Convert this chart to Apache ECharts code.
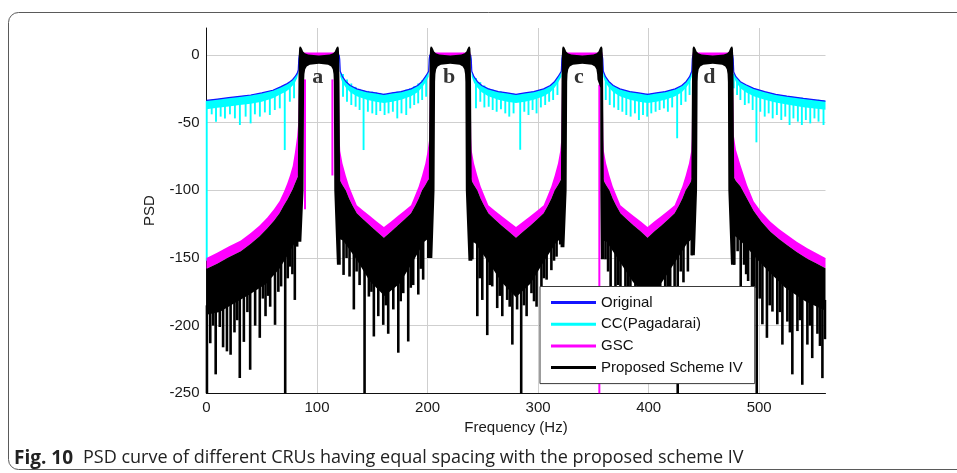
<!DOCTYPE html>
<html>
<head>
<meta charset="utf-8">
<title>PSD of CRUs with equal spacing</title>
<script src="https://cdn.jsdelivr.net/npm/echarts@6.0.0/dist/echarts.min.js"></script>
<style>
  html, body { margin: 0; padding: 0; background: #fff; }
  #chart { width: 957px; height: 473px; }
</style>
</head>
<body>
<div id="chart"></div>
<script>
// Frequency in Hz, PSD in dB.

// Original spectrum envelope
const original = [
  [0,-33.5],[10,-32.5],[20,-31.5],[30,-30.5],[40,-29.5],[50,-28],[60,-26],[67,-23.5],[72,-21.5],[75,-20],[78,-18],[80,-16],[82,-13.5],[83,-11],
  [83.5,-3],[84,0],[86,0.4],[102,0],[118,0.4],[120,0],[120.5,-3],
  [121,-12],[123,-16],[126,-19.5],[130,-22.5],[136,-25],[145,-27],[153,-28],[160.5,-29],[168,-28],[176,-27],[185,-25],[191,-22.5],[195,-19.5],[198,-16],[201,-12],
  [201.5,-3],[202,0],[204,0.4],[220.5,0],[237,0.4],[239,0],[239.5,-3],
  [240,-12],[242,-16],[245,-19.5],[249,-22.5],[255,-25],[264,-27],[272,-28],[280,-29],[288,-28],[296,-27],[305,-25],[311,-22.5],[315,-19.5],[318,-16],[321,-12],
  [321.5,-3],[322,0],[324,0.4],[340,0],[356,0.4],[358,0],[358.5,-3],
  [359,-12],[361,-16],[364,-19.5],[368,-22.5],[374,-25],[383,-27],[391,-28],[399,-29],[407,-28],[415,-27],[424,-25],[430,-22.5],[434,-19.5],[437,-16],[439,-12],
  [439.5,-3],[440,0],[442,0.4],[458,0],[474,0.4],[476,0],[476.5,-3],
  [477,-12.5],[479,-16],[483,-19.7],[488,-22],[495,-24.6],[505,-27],[515,-29],[525,-30.3],[540,-32],[560,-34]
];

// CC (Pagadarai): lower edge of the dense part, and its notches [f, from, to]
const ccLower = [
  [0,-40],[10,-39],[20,-38],[30,-37],[40,-36],[50,-34.5],[60,-32],[67,-29],[72,-27],[75,-25],[78,-22.5],[80,-20.5],[82,-17],[83,-14],
  [83.5,-6],[84,-4],[102,-4],[120,-4],[120.5,-6],
  [121,-16],[123,-20.5],[126,-24],[130,-27.5],[136,-30.5],[145,-33],[153,-34.5],[160.5,-35.5],[168,-34.5],[176,-33],[185,-30.5],[191,-27.5],[195,-24],[198,-20.5],[201,-16],
  [201.5,-6],[202,-4],[239,-4],[239.5,-6],
  [240,-16],[242,-20.5],[245,-24],[249,-27.5],[255,-30.5],[264,-33],[272,-34.5],[280,-35.5],[288,-34.5],[296,-33],[305,-30.5],[311,-27.5],[315,-24],[318,-20.5],[321,-16],
  [321.5,-6],[322,-4],[358,-4],[358.5,-6],
  [359,-16],[361,-20.5],[364,-24],[368,-27.5],[374,-30.5],[383,-33],[391,-34.5],[399,-35.5],[407,-34.5],[415,-33],[424,-30.5],[430,-27.5],[434,-24],[437,-20.5],[439,-16],
  [439.5,-6],[440,-4],[476,-4],[476.5,-6],
  [477,-16],[479,-20],[483,-24.5],[488,-27.5],[495,-30.5],[505,-33],[515,-35],[525,-36.5],[540,-38.5],[560,-40.5]
];

const ccNotches = [
  [0.2,-34,-152],
  [4.7,-35,-43.8],[8.6,-34.5,-49.2],[12.8,-34,-45.5],[16.7,-33.5,-46.8],[21.2,-33,-43.8],[25.7,-32.5,-46.8],[30.2,-32,-51.7],[35.4,-31.5,-45.5],[39.9,-31,-50.5],[43.8,-30.5,-43.8],[48.3,-30,-45.5],[52.8,-29,-42.4],[57.3,-28,-44.3],[61.8,-27,-40.6],[66.3,-25,-39.4],[70.8,-23,-70.2],[75.4,-21,-34.5],[79.2,-18,-32],
  [123.5,-14,-30.8],[127.1,-18,-34.5],[131,-21,-36.9],[134.9,-23.5,-38.2],[138.5,-25,-40.6],[142.1,-26,-70.2],[146,-26.5,-41.9],[150,-27,-43.1],[153.6,-27.5,-44.3],[157.2,-28,-41.4],[161.1,-28.5,-44.3],[164.7,-28,-43.1],[168.6,-27.5,-41.9],[172.6,-27,-46.8],[176.4,-26.5,-43.1],[180.7,-25.5,-44.3],[184.3,-24.5,-39.4],[187.9,-23,-36.9],[191.5,-21,-35.7],[195.1,-18.5,-33.2],[198.7,-15,-30.8],
  [243.8,-17,-39.4],[247.7,-20,-34.5],[251.4,-22.5,-38.7],[255.3,-24.5,-38.2],[258.9,-25.5,-40.6],[262.5,-26.5,-41.9],[266.4,-27,-40.1],[270.3,-27.5,-43.1],[273.9,-28,-45.5],[277.8,-28.5,-43.1],[283.8,-28.5,-70],[287.5,-28,-41.9],[291.3,-27.5,-44.3],[295,-27,-40.6],[298.6,-26.5,-43.1],[302.5,-25.5,-38.7],[306.4,-24.5,-36.9],[310,-23,-34.5],[313.6,-21,-33.2],[317.5,-17.5,-29.5],
  [361.2,-17,-33.2],[364.8,-20,-36.9],[368.7,-22.5,-38.7],[372.6,-24.5,-40.6],[376.2,-25.5,-41.9],[379.8,-26.5,-44.3],[383.7,-27,-45.5],[387.6,-27.5,-43.1],[391.2,-28,-48],[394.9,-28.5,-44.3],[398.7,-28.5,-45.5],[402.4,-28.5,-43.1],[406.3,-28,-41.9],[409.9,-27.5,-40.6],[413.8,-27,-39.4],[417.4,-26.5,-41.9],[421.3,-25.5,-38.7],[425.8,-24.5,-61.5],[429.4,-23,-36.9],[433.4,-21,-34.5],[437,-17,-29.5],
  [477,-14,-24.6],[480,-17.5,-29.5],[483,-20.5,-33.2],[487,-22.5,-36.9],[490.5,-23.5,-35.7],[494.1,-25,-40.6],[497.5,-26,-64.5],[501,-26.5,-41.9],[505,-27.5,-45.5],[508.6,-28,-43.1],[512.2,-28.5,-46.8],[516,-29,-44.3],[520,-29.5,-48],[523.6,-30,-45.5],[527.5,-30.5,-51.7],[531,-31,-46.8],[535,-31.5,-49.2],[538.6,-31.5,-51.7],[542.2,-32,-48],[546.2,-32.5,-50.5],[550,-33,-46.8],[553.7,-33,-49.2],[558.2,-33.5,-51.7]
];

// GSC: upper and lower edges of the dense band, plus notches [f, from, to]
const gscUpper = [
  [0,-150],[10,-146],[20,-141.5],[31,-137],[40,-131.5],[48,-126],[55,-120],[61,-114],[66,-108],[70,-101],[73,-95],[75.5,-89],[78,-82],[80,-72],[82,-60],[83,-50],
  [83.5,-25],[83.8,1.8],[119.7,1.8],[120,-25],
  [120.5,-62],[121,-71],[123,-80],[126,-89],[129,-97],[132,-103],[136,-111],[142,-115],[148,-119],[154,-123],[160.5,-127],[167,-123],[173,-119],[179,-115],[185,-111],[189,-103],[192,-97],[195,-89],[198,-80],[200,-71],[201.5,-62],
  [202,-25],[202.3,1.8],[238.7,1.8],[239,-25],
  [239.5,-62],[240,-71],[242,-80],[245,-89],[248,-97],[251,-103],[255,-111],[261,-115],[267,-119],[273.5,-123],[280,-127],[286.5,-123],[293,-119],[299,-115],[305,-111],[309,-103],[312,-97],[315,-89],[318,-80],[320,-71],[321,-62],
  [321.5,-25],[321.8,1.8],[358.2,1.8],[358.5,-25],
  [359,-62],[359.5,-71],[361.5,-80],[364.5,-89],[367.5,-97],[370.5,-103],[374.5,-111],[380.5,-115],[386.5,-119],[393,-123],[399,-127],[405,-123],[411.5,-119],[417.5,-115],[423.5,-111],[427.5,-103],[430.5,-97],[433.5,-89],[436.5,-80],[438.5,-71],[439,-62],
  [439.5,-25],[439.8,1.8],[476.2,1.8],[476.5,-25],
  [477,-59],[479,-70],[483,-81],[489,-96],[495,-108],[502,-116],[510,-123],[518,-128.5],[525.5,-133],[534,-138],[543.6,-142.8],[552,-146.5],[560,-150]
];

const gscLower = [
  [0,-158],[10,-154],[20,-149.5],[31,-145],[40,-139.5],[48,-134],[55,-128],[61,-122.5],[66,-117],[70,-111],[73,-107],[75.5,-103],[78,-99],[80,-95],[82,-91],[83,-89],
  [83.5,-89],[83.8,-1],[119.7,-1],[120,-90],
  [120.5,-91],[121,-93],[123,-96],[126,-100],[129,-106],[132,-111],[136,-117],[142,-121.5],[148,-126],[154,-130.5],[160.5,-135],[167,-130.5],[173,-126],[179,-121.5],[185,-117],[189,-111],[192,-106],[195,-100],[198,-96],[200,-93],[201.5,-91],
  [202,-90],[202.3,-1],[238.7,-1],[239,-90],
  [239.5,-91],[240,-93],[242,-96],[245,-100],[248,-106],[251,-111],[255,-117],[261,-121.5],[267,-126],[273.5,-130.5],[280,-135],[286.5,-130.5],[293,-126],[299,-121.5],[305,-117],[309,-111],[312,-106],[315,-100],[318,-96],[320,-93],[321,-91],
  [321.5,-90],[321.8,-1],[358.2,-1],[358.5,-90],
  [359,-91],[359.5,-93],[361.5,-96],[364.5,-100],[367.5,-106],[370.5,-111],[374.5,-117],[380.5,-121.5],[386.5,-126],[393,-130.5],[399,-135],[405,-130.5],[411.5,-126],[417.5,-121.5],[423.5,-117],[427.5,-111],[430.5,-106],[433.5,-100],[436.5,-96],[438.5,-93],[439,-91],
  [439.5,-90],[439.8,-1],[476.2,-1],[476.5,-90],
  [477,-90],[479,-93],[483,-97],[489,-106],[495,-115],[502,-123],[510,-130.5],[518,-136],[525.5,-140.5],[534,-145.5],[543.6,-150.5],[552,-154],[560,-157.5]
];

const gscNotches = [[89.1,-18,-114],[113.9,-18,-89],[355.4,-22,-250]];

// Proposed Scheme IV: out-of-band dense part (gaps split by null), notches, and the four passbands
const propUpper = [
  [0,-158],[10,-154],[20,-149.5],[31,-145],[40,-139.5],[48,-134],[55,-128],[61,-122.5],[66,-117],[70,-111],[73,-107],[75.5,-103],[78,-99],[80,-95],[82,-91],[83.2,-89],
  null,
  [120.3,-91],[121,-93],[123,-96],[126,-100],[129,-106],[132,-111],[136,-117],[142,-121.5],[148,-126],[154,-130.5],[160.5,-135],[167,-130.5],[173,-126],[179,-121.5],[185,-117],[189,-111],[192,-106],[195,-100],[198,-96],[200,-93],[201.7,-91],
  null,
  [239.3,-91],[240,-93],[242,-96],[245,-100],[248,-106],[251,-111],[255,-117],[261,-121.5],[267,-126],[273.5,-130.5],[280,-135],[286.5,-130.5],[293,-126],[299,-121.5],[305,-117],[309,-111],[312,-106],[315,-100],[318,-96],[320,-93],[321.2,-91],
  null,
  [358.8,-91],[359.5,-93],[361.5,-96],[364.5,-100],[367.5,-106],[370.5,-111],[374.5,-117],[380.5,-121.5],[386.5,-126],[393,-130.5],[399,-135],[405,-130.5],[411.5,-126],[417.5,-121.5],[423.5,-117],[427.5,-111],[430.5,-106],[433.5,-100],[436.5,-96],[438.5,-93],[439.2,-91],
  null,
  [476.8,-90],[479,-93],[483,-97],[489,-106],[495,-115],[502,-123],[510,-130.5],[518,-136],[525.5,-140.5],[534,-145.5],[543.6,-150.5],[552,-154],[560,-157.5]
];

const propLower = [
  [0,-192],[12,-190],[24,-184],[39,-177],[54,-169],[66,-158],[75,-146],[81,-137],[83.2,-135],
  null,
  [120.3,-136],[123.5,-137],[135.6,-151],[147.6,-167],[161,-178],[174.6,-169],[186.6,-153],[197,-138],[201.7,-135],
  null,
  [239.3,-138],[243,-139],[255,-153],[267,-168],[280,-179],[293,-169],[305,-153],[316,-139],[321.2,-135],
  null,
  [358.8,-137],[362,-138],[374,-153],[386,-168],[399,-178],[412,-168],[424,-153],[435,-139],[439.2,-136],
  null,
  [476.8,-133],[480,-135],[487.5,-141],[498,-151],[508.6,-160],[523.6,-172],[541.7,-182],[560,-189]
];

const propNotches = [
  [0.4,-185,-250],[3.4,-183,-213],[6,-183,-200],[8.3,-182,-236],[12,-181,-201],[15,-181,-216],[18.5,-180,-219],[21.8,-178,-221.5],[25.3,-176,-205],[27.8,-175,-196],[30.1,-174,-238.7],[33.8,-172,-212],[37,-170,-190],[39.5,-169,-232.6],[44,-166,-200],[48.2,-164,-209],[51,-162,-180],[53.4,-160,-193],[55.6,-159,-178],[57.6,-157,-186],[62,-154,-199.4],[65,-151,-175],[67.5,-150,-171],[71.2,-145,-250],[73.5,-142,-165],[75.4,-139,-156.4],[77.7,-137,-162],[79.9,-131,-181],[82,-128,-141.6],
  [124,-130,-162.5],[126.7,-134,-150],[129.4,-137,-163.7],[133.3,-142,-188],[135.8,-146,-160],[138.5,-149,-170],[143,-154,-250],[146.9,-158,-178.5],[149.2,-160,-175],[151.4,-162,-208],[155.4,-165,-193],[159.9,-167,-199.4],[162.2,-167,-185],[164.4,-166,-206],[169,-163,-188],[173.5,-160,-220],[175.7,-158,-182],[178,-156,-176],[182.5,-151,-211.7],[184.8,-149,-172],[187,-146,-170],[191.6,-140,-177],[193.8,-137,-158],[196,-133,-166],[200.6,-128,-150],
  [240.5,-130,-151],[245,-135,-193],[247.2,-138,-165],[249.5,-140,-181],[254,-146,-207],[256.2,-150,-170],[258.5,-152,-171],[263,-157,-187],[265.3,-159,-178],[267.6,-160,-193],[272,-163,-181],[274.3,-165,-186],[276.7,-166,-214],[281,-167,-188],[284.7,-166,-250],[287.2,-164,-185],[289.6,-162,-193],[294,-158,-176],[296.3,-155,-182],[298.6,-152,-186],[303,-147,-171],[305.3,-145,-165],[307.7,-142,-166],[312,-137,-159],[314.4,-134,-152],[316.7,-131,-149],[320,-128,-140],
  [361,-130,-151],[363.3,-132,-160],[365.6,-135,-171],[370,-140,-180],[372.3,-143,-170],[374.5,-146,-195],[379,-152,-175],[381.3,-155,-185],[383.5,-157,-200],[388,-160,-190],[390.2,-162,-180],[392.5,-163,-210],[397,-166,-195],[399.3,-166,-188],[401.5,-166,-205],[406,-163,-215],[408.3,-162,-185],[410.5,-160,-190],[415,-156,-200],[417.3,-154,-178],[419.5,-151,-185],[423.5,-147,-175],[426.3,-144,-250],[429,-141,-160],[431.5,-139,-168],[435.5,-134,-160],[439,-128,-148],
  [477.5,-126,-155],[480.5,-128,-145],[483.3,-130,-175],[486.3,-133,-155],[488.2,-135,-162],[490,-137,-167],[493.5,-140,-185],[495.6,-143,-172],[497.8,-146,-250],[500.5,-148,-180],[502.9,-150,-199],[507,-153,-209],[509.5,-155,-185],[512,-157,-189.6],[516.4,-161,-199],[518.7,-163,-190],[521,-165,-214],[525.5,-167,-197],[527.8,-168,-205],[530,-170,-236],[534.6,-172,-204],[536.8,-173,-196],[539,-174,-243.7],[543.6,-176,-214],[545.8,-177,-200],[548,-178,-224],[552.7,-179,-206],[555,-180,-215],[557.2,-180,-238.8],[559.5,-181,-210]
];

const propBandA = [
  [82.3,-138],[82.8,-70],[83.2,-20],[83.5,0],[83.8,5],[84.4,6.3],[85.4,6.1],[86.4,4.6],[87.4,2.6],[89,1.4],[92,0.4],[101.75,-0.3],[111.5,0.4],[114.5,1.4],[116.1,2.6],[117.1,4.6],[118.1,6.1],[119.1,6.3],[119.7,5],[120,0],[120.3,-20],[120.7,-70],[121.5,-155],
  [118,-155],[115.6,-100],[115.2,-20],[114.9,-14],[114.2,-10.5],[112.8,-8.5],[110,-7.2],[101.75,-6.5],[93.5,-7.2],[90.7,-8.5],[89.3,-10.5],[88.6,-14],[88.3,-20],[87.8,-100],[85.8,-138]
];
const propBandB = [
  [200.8,-150],[201.3,-70],[201.7,-20],[202,0],[202.3,5],[202.9,6.3],[203.9,6.1],[204.9,4.6],[205.9,2.6],[207.5,1.4],[210.5,0.4],[220.5,-0.3],[230.5,0.4],[233.5,1.4],[235.1,2.6],[236.1,4.6],[237.1,6.1],[238.1,6.3],[238.7,5],[239,0],[239.3,-20],[239.7,-70],[240.5,-152],
  [237,-152],[234.6,-100],[234.2,-20],[233.9,-14],[233.2,-10.5],[231.8,-8.5],[229,-7.2],[220.5,-6.5],[212,-7.2],[209.2,-8.5],[207.8,-10.5],[207.1,-14],[206.8,-20],[206.3,-100],[204.3,-150]
];
const propBandC = [
  [320.3,-142],[320.8,-70],[321.2,-20],[321.5,0],[321.8,5],[322.4,6.3],[323.4,6.1],[324.4,4.6],[325.4,2.6],[327,1.4],[330,0.4],[340,-0.3],[350,0.4],[353,1.4],[354.6,2.6],[355.6,4.6],[356.6,6.1],[357.6,6.3],[358.2,5],[358.5,0],[358.8,-20],[359.2,-70],[360,-151],
  [356.8,-151],[356.3,-100],[356.2,-24],[353.7,-18],[353.4,-14],[352.7,-10.5],[351.3,-8.5],[348.5,-7.2],[340,-6.5],[331.5,-7.2],[328.7,-8.5],[327.3,-10.5],[326.6,-14],[326.3,-20],[325.8,-100],[323.8,-142]
];
const propBandD = [
  [438.3,-148],[438.8,-70],[439.2,-20],[439.5,0],[439.8,5],[440.4,6.3],[441.4,6.1],[442.4,4.6],[443.4,2.6],[445,1.4],[448,0.4],[458,-0.3],[468,0.4],[471,1.4],[472.6,2.6],[473.6,4.6],[474.6,6.1],[475.6,6.3],[476.2,5],[476.5,0],[476.8,-20],[477.2,-70],[478,-155],
  [474.5,-155],[472.1,-100],[471.7,-20],[471.4,-14],[470.7,-10.5],[469.3,-8.5],[466.5,-7.2],[458,-6.5],[449.5,-7.2],[446.7,-8.5],[445.3,-10.5],[444.6,-14],[444.3,-20],[443.8,-100],[441.8,-148]
];

// CRU labels [f, dB, text]
const bandLabels = [[100.6,-16.4,'a'],[219.6,-16.4,'b'],[336.9,-16.4,'c'],[454.9,-16.4,'d']];

const seriesNames = ['Original', 'CC(Pagadarai)', 'GSC', 'Proposed Scheme IV'];
const seriesColors = ['#1414ff', '#00ffff', '#ff00ff', '#000000'];

// split an array of points at null entries
function segments(arr) {
  const out = [[]];
  arr.forEach(p => { if (p === null) out.push([]); else out[out.length - 1].push(p); });
  return out.filter(s => s.length);
}

// filled region between an upper and a lower edge
function fillBetween(upper, lower, color) {
  return function (params, api) {
    const ups = segments(upper), lows = segments(lower);
    return {
      type: 'group',
      children: ups.map((u, i) => ({
        type: 'polygon',
        shape: { points: u.map(p => api.coord(p)).concat(lows[i].slice().reverse().map(p => api.coord(p))) },
        style: { fill: color }
      }))
    };
  };
}

// closed outlines
function outlines(list, color) {
  return function (params, api) {
    return {
      type: 'group',
      children: list.map(o => ({
        type: 'polygon',
        shape: { points: o.map(p => api.coord(p)) },
        style: { fill: color }
      }))
    };
  };
}

// vertical notch from value[1] to value[2] at frequency value[0]
function notch(color, width) {
  return function (params, api) {
    const a = api.coord([api.value(0), api.value(1)]);
    const b = api.coord([api.value(0), api.value(2)]);
    return {
      type: 'line',
      shape: { x1: a[0], y1: a[1], x2: b[0], y2: b[1] },
      style: { stroke: color, lineWidth: width }
    };
  };
}

const chart = echarts.init(document.getElementById('chart'), null, { renderer: 'canvas' });

const axisFont = { fontFamily: 'Liberation Sans, Arial, sans-serif', fontSize: 15, color: '#1a1a1a' };

chart.setOption({
  animation: false,
  backgroundColor: '#ffffff',
  grid: { left: 206.5, top: 28, width: 619, height: 365.3, containLabel: false },
  xAxis: {
    type: 'value', min: 0, max: 560, interval: 100,
    name: 'Frequency (Hz)', nameLocation: 'middle', nameGap: 25,
    nameTextStyle: axisFont,
    axisLine: { onZero: false, lineStyle: { color: '#111', width: 1 } },
    axisTick: { show: false },
    axisLabel: Object.assign({ margin: 7, showMaxLabel: false }, axisFont),
    splitLine: { show: true, showMaxLine: false, lineStyle: { color: '#cfcfcf', width: 1 } }
  },
  yAxis: {
    type: 'value', min: -250, max: 20, interval: 50,
    name: 'PSD', nameLocation: 'middle', nameGap: 49,
    nameTextStyle: axisFont,
    axisLine: { onZero: false, lineStyle: { color: '#111', width: 1 } },
    axisTick: { show: false },
    axisLabel: Object.assign({ margin: 7, showMaxLabel: false }, axisFont),
    splitLine: { show: true, showMaxLine: false, lineStyle: { color: '#cfcfcf', width: 1 } }
  },
  legend: {
    show: true,
    z: 30,
    selectedMode: false,
    orient: 'vertical',
    left: 540, top: 286.5,
    padding: [8, 12, 8, 11],
    itemGap: 5.7,
    itemWidth: 45, itemHeight: 3,
    backgroundColor: '#ffffff',
    borderColor: '#3a3a3a', borderWidth: 1, borderRadius: 0,
    textStyle: { fontFamily: 'Liberation Sans, Arial, sans-serif', fontSize: 15, color: '#111', lineHeight: 16 },
    data: seriesNames.map((n, i) => ({ name: n, icon: 'rect', itemStyle: { color: seriesColors[i] } }))
  },
  graphic: [
    {
      type: 'rect', silent: true, z: -10,
      shape: { x: 8.5, y: 12.5, width: 1000, height: 457, r: 10 },
      style: { fill: 'none', stroke: '#5a5a5a', lineWidth: 1 }
    },
    {
      type: 'text', left: 14, top: 449, silent: true,
      style: { text: 'Fig. 10', font: 'bold 19px "Open Sans", sans-serif', fill: '#222' }
    },
    {
      type: 'text', left: 83, top: 449, silent: true,
      style: { text: 'PSD curve of different CRUs having equal spacing with the proposed scheme IV', font: '18px "Open Sans", sans-serif', fill: '#222' }
    }
  ],
  series: [
    {
      name: 'CC(Pagadarai)', type: 'custom', z: 1, silent: true,
      itemStyle: { color: seriesColors[1] },
      data: [[0, 0]], renderItem: fillBetween(original, ccLower, seriesColors[1])
    },
    {
      name: 'CC(Pagadarai)', type: 'custom', z: 1, silent: true,
      itemStyle: { color: seriesColors[1] },
      encode: { x: 0, y: [1, 2] },
      data: ccNotches, renderItem: notch(seriesColors[1], 1.9)
    },
    {
      name: 'Original', type: 'line', z: 2, silent: true,
      showSymbol: false, symbol: 'none',
      lineStyle: { color: seriesColors[0], width: 1.2 },
      itemStyle: { color: seriesColors[0] },
      data: original
    },
    {
      name: 'GSC', type: 'custom', z: 3, silent: true,
      itemStyle: { color: seriesColors[2] },
      data: [[0, 0]], renderItem: fillBetween(gscUpper, gscLower, seriesColors[2])
    },
    {
      name: 'GSC', type: 'custom', z: 3, silent: true,
      itemStyle: { color: seriesColors[2] },
      encode: { x: 0, y: [1, 2] },
      data: gscNotches, renderItem: notch(seriesColors[2], 2)
    },
    {
      name: 'Proposed Scheme IV', type: 'custom', z: 4, silent: true,
      itemStyle: { color: seriesColors[3] },
      data: [[0, 0]], renderItem: fillBetween(propUpper, propLower, seriesColors[3])
    },
    {
      name: 'Proposed Scheme IV', type: 'custom', z: 4, silent: true,
      itemStyle: { color: seriesColors[3] },
      encode: { x: 0, y: [1, 2] },
      data: propNotches, renderItem: notch(seriesColors[3], 2.6)
    },
    {
      name: 'Proposed Scheme IV', type: 'custom', z: 5, silent: true,
      itemStyle: { color: seriesColors[3] },
      data: [[0, 0]], renderItem: outlines([propBandA, propBandB, propBandC, propBandD], seriesColors[3])
    },
    {
      name: 'labels', type: 'scatter', z: 6, silent: true,
      symbolSize: 0,
      data: bandLabels,
      label: {
        show: true, position: 'inside',
        formatter: p => p.value[2],
        fontFamily: 'Liberation Serif, Times New Roman, serif', fontWeight: 'bold', fontSize: 22, color: '#000'
      }
    }
  ]
});
</script>
</body>
</html>
